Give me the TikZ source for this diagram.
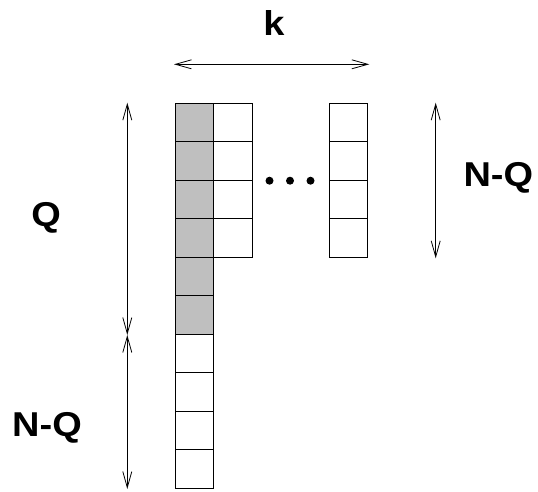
\documentclass[tikz,border=0pt]{standalone}
\usepackage{fontspec}
\setmainfont{Liberation Sans}
\newfontfamily\lblfont[FakeStretch=1.1]{Liberation Sans Bold}
\usetikzlibrary{arrows.meta}
\begin{document}
\begin{tikzpicture}[x=1pt,y=-1pt,
  cell/.style={draw, line width=0.9pt, minimum width=38.5pt, minimum height=38.5pt, inner sep=0pt, outer sep=0pt, anchor=north west},
  shaded/.style={cell, fill=black!25},
  dim/.style={line width=0.8pt, {Straight Barb[length=16pt,width=9pt]}-{Straight Barb[length=16pt,width=9pt]}},
  lbl/.style={font=\fontsize{34.5}{38}\lblfont, inner sep=0pt, anchor=base},
  dot/.style={circle, fill, inner sep=0pt, minimum size=8pt}]
\useasboundingbox (0,0) rectangle (538,491);
% first column: 6 shaded, 4 white
\foreach \i in {0,...,5} {
  \node[shaded] (a\i) at (175,{103.3+38.5*\i}) {};
}
\foreach \i in {6,...,9} {
  \node[cell] (a\i) at (175,{103.3+38.5*\i}) {};
}
% second column
\foreach \i in {0,...,3} {
  \node[cell] (b\i) at (213.5,{103.3+38.5*\i}) {};
}
% last column
\foreach \i in {0,...,3} {
  \node[cell] (r\i) at (329,{103.3+38.5*\i}) {};
}
% dots
\node[dot] (d1) at (269.5,180.7) {};
\node[dot] (d2) at (290,180.7) {};
\node[dot] (d3) at (310.5,180.7) {};
% dimension arrows
\coordinate (kl) at (174,64.3);
\coordinate (kr) at (369.3,64.3);
\draw[dim] (kl) -- (kr);
\coordinate (qt) at (127.3,102.7);
\coordinate (qm) at (127.3,335);
\coordinate (qb) at (127.3,489);
\draw[dim] (qt) -- (qm);
\draw[dim] (qm) -- (qb);
\coordinate (rt) at (435.7,102.7);
\coordinate (rb) at (435.7,258.3);
\draw[dim] (rt) -- (rb);
% labels
\node[lbl] (k) at (274,35) {k};
\node[lbl] (q) at (46.2,226.7) {Q};
\node[lbl] (nq1) at (47,436.7) {N-Q};
\node[lbl] (nq2) at (498.3,186.7) {N-Q};
\end{tikzpicture}
\end{document}
